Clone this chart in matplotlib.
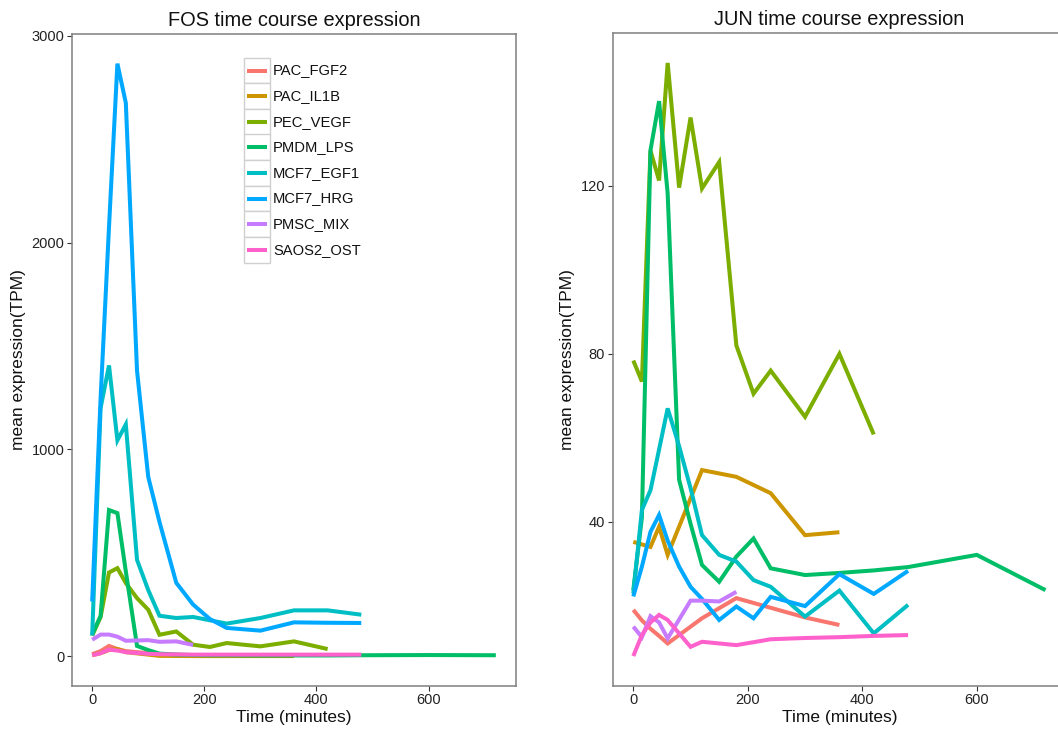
import matplotlib
matplotlib.use("Agg")
import matplotlib.pyplot as plt
from matplotlib.patches import Rectangle
from matplotlib.lines import Line2D

plt.rcParams['font.family'] = ['Liberation Sans', 'DejaVu Sans']

series = ["PAC_FGF2", "PAC_IL1B", "PEC_VEGF", "PMDM_LPS",
          "MCF7_EGF1", "MCF7_HRG", "PMSC_MIX", "SAOS2_OST"]
colors = ["#F8766D", "#CD9600", "#7CAE00", "#00BE67",
          "#00BFC4", "#00A9FF", "#C77CFF", "#FF61CC"]

t_pac = [0, 15, 30, 45, 60, 120, 180, 240, 300, 360]
t_pec = [0, 15, 30, 45, 60, 80, 100, 120, 150, 180, 210, 240, 300, 360, 420]
t_lps = [0, 15, 30, 45, 60, 80, 100, 120, 150, 180, 210, 240, 300, 360, 420, 480, 600, 720]
t_mcf7 = [0, 15, 30, 45, 60, 80, 100, 120, 150, 180, 210, 240, 300, 360, 420, 480]
t_pmsc = [0, 15, 30, 45, 60, 100, 120, 150, 180]
t_saos = [0, 15, 30, 45, 60, 100, 120, 180, 240, 300, 360, 420, 480]

times = [t_pac, t_pac, t_pec, t_lps, t_mcf7, t_mcf7, t_pmsc, t_saos]

fos_fgf2 = [10, 25, 50, 35, 25, 10, 5, 4, 3, 3]
fos_il1b = [5, 15, 30, 35, 20, 2, 1, 1, 1, 1]
fos_pec = [100, 190, 405, 426, 354, 281, 225, 104, 120, 56, 45, 64, 48, 72, 35]
fos_lps = [105, 195, 707, 692, 410, 50, 30, 13, 8, 6, 5, 5, 4, 4, 4, 5, 6, 5]
fos_egf1 = [100, 1200, 1406, 1044, 1121, 466, 320, 196, 185, 190, 174, 158, 185, 222, 222, 201]
fos_hrg = [265, 1247, 2075, 2865, 2675, 1380, 867, 650, 355, 250, 180, 137, 124, 164, 162, 161]
fos_pmsc = [80, 105, 105, 95, 75, 78, 70, 72, 55]
fos_saos = [5, 15, 32, 28, 20, 12, 10, 8, 8, 8, 8, 8, 8]

jun_fgf2 = [19, 16.5, 14.5, 12.8, 11, 17, 21.8, 19.5, 17.2, 15.4]
jun_il1b = [35.2, 34.6, 34, 38.8, 32.1, 52.3, 50.7, 46.8, 36.8, 37.5]
jun_pec = [78.4, 73.4, 128.4, 121.3, 149.3, 119.6, 136.3, 119.4, 125.7, 82, 70.5, 76, 65, 80, 60.8]
jun_lps = [23.7, 41, 128.5, 140.2, 118.2, 50, 39.5, 29.7, 25.7, 31.7, 36, 28.9, 27.3, 27.8, 28.4, 29.2, 32.1, 23.7]
jun_egf1 = [22.9, 42.8, 47.5, 57.2, 67, 58, 48, 36.8, 32.1, 30.5, 26.1, 24.5, 17.4, 23.6, 13.4, 20.2]
jun_hrg = [22.2, 29.3, 37.6, 41.6, 35.5, 29.3, 24.5, 21.6, 16.6, 19.8, 17, 22.1, 19.9, 27.5, 22.8, 28.3]
jun_pmsc = [15, 12.5, 17.5, 16, 12.2, 21.2, 21.2, 21, 23.3]
jun_saos = [8, 13, 16, 17.8, 16.6, 10.2, 11.4, 10.6, 12, 12.3, 12.5, 12.8, 13]

fos_vals = [fos_fgf2, fos_il1b, fos_pec, fos_lps, fos_egf1, fos_hrg, fos_pmsc, fos_saos]
jun_vals = [jun_fgf2, jun_il1b, jun_pec, jun_lps, jun_egf1, jun_hrg, jun_pmsc, jun_saos]

fos_yticks = [0, 1000, 2000, 3000]
jun_yticks = [40, 80, 120]
xticks = [0, 200, 400, 600]

W, H = 1058, 731
fig = plt.figure(figsize=(W / 100, H / 100), dpi=100)

def px_axes(x0, y0, x1, y1):
    return fig.add_axes([x0 / W, 1 - y1 / H, (x1 - x0) / W, (y1 - y0) / H])

ax1 = px_axes(72, 34, 516, 685.7)
ax2 = px_axes(612.7, 33.3, 1066.1, 685.7)

LW = 2.9
for ax, vals, title, yt in [(ax1, fos_vals, "FOS time course expression", fos_yticks),
                            (ax2, jun_vals, "JUN time course expression", jun_yticks)]:
    for t, v, c in zip(times, vals, colors):
        ax.plot(t, v, color=c, lw=LW, solid_joinstyle='miter', solid_capstyle='butt')
    ax.margins(0.05)
    ax.set_xticks(xticks)
    ax.set_yticks(yt)
    ax.set_title(title, fontsize=14.4, pad=6, color='#111111')
    ax.set_xlabel("Time (minutes)", fontsize=12.5, labelpad=2, color='#111111')
    ax.set_ylabel("mean expression(TPM)", fontsize=12.5, labelpad=4, color='#111111')
    for s in ax.spines.values():
        s.set_color('#7f7f7f')
        s.set_linewidth(1.1)
    ax.tick_params(direction='out', length=3.5, width=0.8, color='#333333',
                   labelsize=10.5, labelcolor='#222222', pad=2)
    ax.set_facecolor('white')

# legend, drawn manually in pixel space to mimic ggplot keys
kx, ky0, kw, kh = 244, 57.7, 26, 25.6
for i, (name, c) in enumerate(zip(series, colors)):
    y0 = ky0 + i * kh
    fig.patches.append(Rectangle((kx / W, 1 - (y0 + kh) / H), kw / W, kh / H,
                                 transform=fig.transFigure, facecolor='white',
                                 edgecolor='#d0d0d0', lw=1.0, zorder=5))
    yc = 1 - (y0 + kh / 2) / H
    fig.lines.append(Line2D([(kx + 3) / W, (kx + kw - 3) / W], [yc, yc],
                            transform=fig.transFigure, color=c, lw=LW,
                            solid_capstyle='butt', zorder=6))
    fig.text((kx + kw + 3) / W, yc, name, fontsize=10.6, va='center', ha='left',
             color='#111111', zorder=6)

fig.savefig("out.png", dpi=100, facecolor='white')
